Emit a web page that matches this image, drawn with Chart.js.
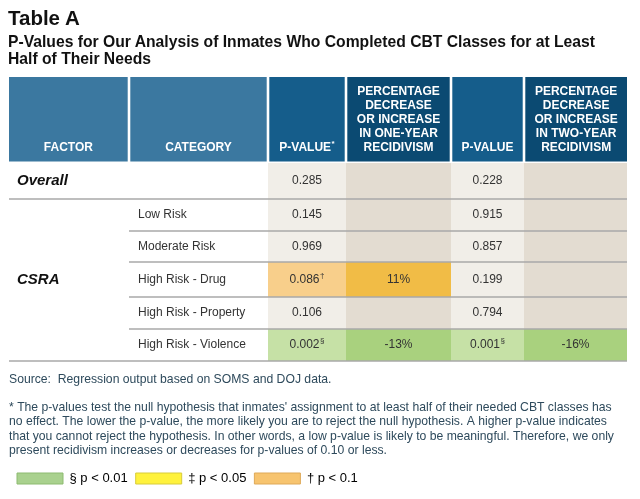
<!DOCTYPE html>
<html>
<head>
<meta charset="utf-8">
<script src="https://cdn.jsdelivr.net/npm/chart.js@4.4.0/dist/chart.umd.min.js"></script>
<style>
  body { margin: 0; background: #fff; font-family: 'Liberation Sans', Arial, sans-serif; }
  #wrap { position: relative; width: 640px; height: 499px; overflow: hidden; }
  canvas { position: absolute; left: 0; top: 0; }
  #titulo { position: absolute; left: 8px; top: 5px; font-size: 20.5px; font-weight: bold; line-height: 26px; color: #111; }
  #subtitulo { position: absolute; left: 8px; top: 33px; font-size: 15.7px; font-weight: bold; line-height: 17px; color: #111; }
</style>
</head>
<body>
<div id="wrap">
  <canvas id="tablaA" width="640" height="499"></canvas>
  <div id="titulo">Table A</div>
  <div id="subtitulo">P-Values for Our Analysis of Inmates Who Completed CBT Classes for at Least<br>Half of Their Needs</div>
</div>
<script>
// --- datos de la tabla ---
const headerLines = [
    ['FACTOR'],
    ['CATEGORY'],
    ['P-VALUE*'],
    ['PERCENTAGE', 'DECREASE', 'OR INCREASE', 'IN ONE-YEAR', 'RECIDIVISM'],
    ['P-VALUE'],
    ['PERCENTAGE', 'DECREASE', 'OR INCREASE', 'IN TWO-YEAR', 'RECIDIVISM']
];
const factors = ['Overall', 'CSRA'];
const factorRows = [[0, 0], [1, 5]];   // primera y ultima fila de cada factor
const categories = ['', 'Low Risk', 'Moderate Risk', 'High Risk - Drug', 'High Risk - Property', 'High Risk - Violence'];
const pOneYear = [0.285, 0.145, 0.969, 0.086, 0.106, 0.002];
const changeOneYear = [null, null, null, 11, null, -13];
const pTwoYear = [0.228, 0.915, 0.857, 0.199, 0.794, 0.001];
const changeTwoYear = [null, null, null, null, null, -16];

const sigLevels = [0.01, 0.05, 0.1];
const sigMarks = ['§', '‡', '†'];
const sigLabels = ['p < 0.01', 'p < 0.05', 'p < 0.1'];

const notes = [
    'Source:  Regression output based on SOMS and DOJ data.',
    '',
    '* The p-values test the null hypothesis that inmates\' assignment to at least half of their needed CBT classes has',
    'no effect. The lower the p-value, the more likely you are to reject the null hypothesis. A higher p-value indicates',
    'that you cannot reject the hypothesis. In other words, a low p-value is likely to be meaningful. Therefore, we only',
    'present recidivism increases or decreases for p-values of 0.10 or less.'
];

// --- estilos / disposicion ---
const fam = "'Liberation Sans', Arial, sans-serif";
const colWidths = [120, 139, 78, 105, 73, 103];
const headerHeight = 86;
const rowHeights = [36, 32, 31, 35, 32, 32];
const headerColors = ['#3b78a0', '#3b78a0', '#155d8b', '#0b4a72', '#155d8b', '#0b4a72'];
const sigLight = ['#c6e1a6', '#fff59a', '#f8cf8b'];
const sigDark = ['#a9d17e', '#fbe84a', '#f1bc46'];
const legendFill = ['#a9d18e', '#fff23c', '#f7c46f'];
const legendStroke = ['#8dbb70', '#d8cc3a', '#dfa958'];
const plainLight = '#f1eee8';
const plainDark = '#e3dcd1';
const noteColor = '#2e4a5c';

const acumular = arr => arr.reduce((acc, w) => { acc.push(acc[acc.length - 1] + w); return acc; }, [0]);
const colEdges = acumular(colWidths);
const rowEdges = acumular(rowHeights).map(v => v + headerHeight);

function sigIndex(p) {
    for (let i = 0; i < sigLevels.length; i++) {
        if (p < sigLevels[i]) return i;
    }
    return -1;
}

// texto con superindice opcional, centrado o alineado a la izquierda
function drawText(ctx, main, sup, x, y, size, weight, align) {
    ctx.font = weight + ' ' + size + 'px ' + fam;
    const w1 = ctx.measureText(main).width;
    const supSize = Math.round(size * 0.7);
    let w2 = 0;
    if (sup) {
        ctx.font = weight + ' ' + supSize + 'px ' + fam;
        w2 = ctx.measureText(sup).width + 0.5;
    }
    const x0 = align === 'center' ? x - (w1 + w2) / 2 : x;
    ctx.textAlign = 'left';
    ctx.textBaseline = 'middle';
    ctx.font = weight + ' ' + size + 'px ' + fam;
    ctx.fillText(main, x0, y);
    if (sup) {
        ctx.font = weight + ' ' + supSize + 'px ' + fam;
        ctx.fillText(sup, x0 + w1 + 0.5, y - size * 0.35);
    }
}

const tablaPlugin = {
    id: 'tablaCeldas',
    afterDatasetsDraw(chart) {
        const {ctx, scales: {x, y}} = chart;
        const px = v => x.getPixelForValue(v);
        const py = v => y.getPixelForValue(v);
        const last = colWidths.length - 1;
        ctx.save();

        // encabezado
        headerLines.forEach((lines, c) => {
            const x0 = px(colEdges[c]) + (c > 0 ? 1.3 : 0);
            const x1 = px(colEdges[c + 1]) - (c < last ? 1.3 : 0);
            const y0 = py(0);
            const y1 = py(headerHeight) - 1.5;
            ctx.fillStyle = headerColors[c];
            ctx.fillRect(x0, y0, x1 - x0, y1 - y0);
            ctx.fillStyle = '#ffffff';
            const cx = (x0 + x1) / 2;
            lines.forEach((line, i) => {
                const ly = y1 - 13.5 - (lines.length - 1 - i) * 14;
                if (line.endsWith('*')) {
                    drawText(ctx, line.slice(0, -1), '*', cx, ly, 12, 'bold', 'center');
                } else {
                    drawText(ctx, line, '', cx, ly, 12, 'bold', 'center');
                }
            });
        });

        // celdas del cuerpo
        categories.forEach((cat, r) => {
            const y0 = py(rowEdges[r]), y1 = py(rowEdges[r + 1]);
            const cy = (y0 + y1) / 2;
            const grupos = [[pOneYear, changeOneYear, 2], [pTwoYear, changeTwoYear, 4]];
            grupos.forEach(([pv, ch, c]) => {
                const k = sigIndex(pv[r]);
                const xa = px(colEdges[c]), xb = px(colEdges[c + 1]), xc = px(colEdges[c + 2]);
                ctx.fillStyle = k >= 0 ? sigLight[k] : plainLight;
                ctx.fillRect(xa, y0, xb - xa, y1 - y0);
                ctx.fillStyle = k >= 0 ? sigDark[k] : plainDark;
                ctx.fillRect(xb, y0, xc - xb, y1 - y0);
                ctx.fillStyle = '#333333';
                drawText(ctx, pv[r].toFixed(3), k >= 0 ? sigMarks[k] : '', (xa + xb) / 2, cy, 12, 'normal', 'center');
                if (ch[r] !== null) {
                    drawText(ctx, ch[r] + '%', '', (xb + xc) / 2, cy, 12, 'normal', 'center');
                }
            });
            if (cat) {
                ctx.fillStyle = '#333333';
                drawText(ctx, cat, '', px(colEdges[1]) + 9, cy, 12, 'normal', 'left');
            }
        });

        // factores
        factors.forEach((f, i) => {
            const [a, b] = factorRows[i];
            const cy = (py(rowEdges[a]) + py(rowEdges[b + 1])) / 2;
            ctx.fillStyle = '#111111';
            drawText(ctx, f, '', px(0) + 8, cy, 15, 'italic bold', 'left');
        });

        // lineas horizontales
        ctx.strokeStyle = '#a8a8a8';
        ctx.lineWidth = 1.5;
        for (let r = 1; r <= categories.length; r++) {
            const grupo = factorRows.some(([a, b]) => a === r || b + 1 === r);
            const xs = grupo ? px(0) : px(colEdges[1]);
            ctx.beginPath();
            ctx.moveTo(xs, py(rowEdges[r]));
            ctx.lineTo(px(colEdges[colEdges.length - 1]), py(rowEdges[r]));
            ctx.stroke();
        }
        ctx.restore();
    }
};

const ctx = document.getElementById('tablaA').getContext('2d');
new Chart(ctx, {
    type: 'scatter',
    data: { datasets: [] },
    options: {
        responsive: false,
        animation: false,
        events: [],
        layout: { padding: { top: 77, left: 9, right: 13, bottom: 4 } },
        scales: {
            x: { type: 'linear', display: false, min: 0, max: colEdges[colEdges.length - 1] },
            y: { type: 'linear', display: false, reverse: true, min: 0, max: rowEdges[rowEdges.length - 1] }
        },
        plugins: {
            tooltip: { enabled: false },
            legend: {
                display: true,
                position: 'bottom',
                align: 'start',
                onClick: null,
                labels: {
                    boxWidth: 46,
                    boxHeight: 11,
                    padding: 8,
                    color: '#3a4a58',
                    font: { size: 13, family: fam },
                    generateLabels: () => sigLabels.map((t, i) => ({
                        text: sigMarks[i] + ' ' + t,
                        fillStyle: legendFill[i],
                        strokeStyle: legendStroke[i],
                        lineWidth: 1,
                        hidden: false,
                        datasetIndex: i
                    }))
                }
            },
            title: {
                display: true,
                position: 'bottom',
                align: 'start',
                weight: 500,
                text: notes,
                color: noteColor,
                font: { size: 12.2, family: fam, weight: 'normal', lineHeight: '14.3px' },
                padding: { top: 11, bottom: 6.2 }
            }
        }
    },
    plugins: [tablaPlugin]
});
</script>
</body>
</html>
